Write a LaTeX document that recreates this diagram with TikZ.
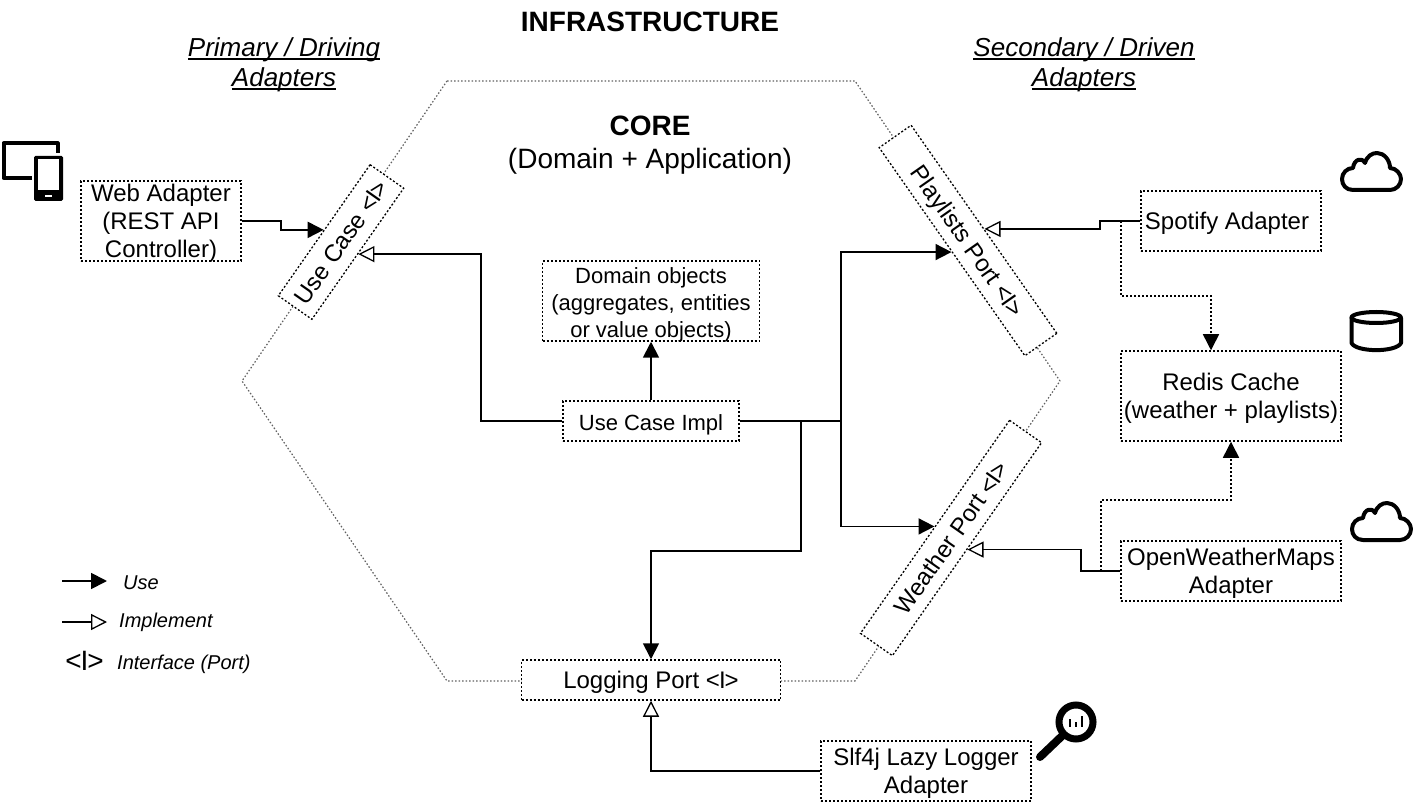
\documentclass[tikz,border=0pt]{standalone}
\usepackage{fontspec}
\setmainfont{Liberation Sans}
\usetikzlibrary{arrows.meta,calc}
\newcommand{\dn}[1]{\raisebox{-9.5pt}[0pt][0pt]{\begin{tabular}{@{}c@{}}#1\end{tabular}}}
\newcommand{\ul}[1]{\setbox0=\hbox{#1}\rlap{\rule[-3pt]{\wd0}{1.3pt}}\box0}
\newcommand{\ifc}{<\kern-1pt I\kern-1pt>}
\tikzset{
  x=1pt,y=1pt,
  dotbox/.style={draw=black,line width=1.5pt,dash pattern=on 2pt off 2pt,fill=white,inner sep=0pt,font=\fontsize{24}{28}\selectfont},
  portbox/.style={draw=black,line width=1.3pt,dash pattern=on 2pt off 2pt,fill=white,inner sep=0pt,font=\fontsize{24}{28}\selectfont},
  smallbox/.style={dotbox,font=\fontsize{22}{27}\selectfont},
  hexline/.style={draw=black!62,line width=1.2pt,dash pattern=on 1.5pt off 2pt},
  solidline/.style={draw=black,line width=1.8pt},
  dotline/.style={draw=black,line width=1.5pt,dash pattern=on 2pt off 2pt},
  usetip/.style={-{Triangle[length=16pt,width=16pt]}},
  impltip/.style={-{Triangle[open,length=16pt,width=16pt,fill=white,line width=1.3pt]}},
  txt/.style={inner sep=0pt,align=center},
  headtxt/.style={txt,font=\fontsize{26}{30}\selectfont\itshape},
  legtxt/.style={inner sep=0pt,anchor=west,font=\fontsize{20}{24}\selectfont\itshape},
  icon/.style={draw=black,line width=4pt,line join=round,line cap=round},
}
\begin{document}
\begin{tikzpicture}
\useasboundingbox (0,0) rectangle (1414,-802);
% hexagon
\coordinate (h1) at (447,-81);
\coordinate (h2) at (855,-81);
\coordinate (h3) at (1060,-381);
\coordinate (h4) at (855,-681);
\coordinate (h5) at (447,-681);
\coordinate (h6) at (242,-381);
\draw[hexline] (h1)--(h2)--(h3)--(h4)--(h5)--(h6)--cycle;
% titles
\node[txt,font=\fontsize{28}{32}\selectfont\bfseries] (infra) at (650,-22) {INFRASTRUCTURE};
\node[headtxt] (prim) at (284,-65) {\ul{Primary / Driving}\\\ul{Adapters}};
\node[headtxt] (sec) at (1084,-65) {\ul{Secondary / Driven}\\\ul{Adapters}};
\node[txt,font=\fontsize{28}{33}\selectfont] (core) at (650,-145) {\textbf{CORE}\\(Domain + Application)};
% ports
\node[portbox,minimum width=160pt,minimum height=41pt,rotate=55] (ucase) at (341,-242) {\dn{Use Case \ifc}};
\node[portbox,minimum width=254pt,minimum height=39pt,rotate=-55] (play) at (968,-240.5) {\dn{Playlists Port \ifc}};
\node[portbox,minimum width=260pt,minimum height=39pt,rotate=55] (weather) at (951,-538) {\dn{Weather Port \ifc}};
\node[dotbox,minimum width=259pt,minimum height=40pt] (logp) at (651,-680) {\dn{Logging Port \ifc}};
% boxes
\node[dotbox,minimum width=160pt,minimum height=80pt] (web) at (161,-221) {\dn{Web Adapter\\(REST API\\Controller)}};
\node[dotbox,minimum width=180pt,minimum height=60pt] (spot) at (1231,-221) {\dn{Spotify Adapter}\kern8pt};
\node[dotbox,minimum width=220pt,minimum height=90pt] (redis) at (1231,-396) {\dn{Redis Cache\\(weather + playlists)}};
\node[dotbox,minimum width=220pt,minimum height=60pt] (owm) at (1231,-571) {\dn{OpenWeatherMaps\\Adapter}};
\node[dotbox,minimum width=210pt,minimum height=60pt] (slf) at (926,-771) {\dn{Slf4j Lazy Logger\\Adapter}};
\node[smallbox,minimum width=217pt,minimum height=80pt] (dom) at (651,-301) {\dn{Domain objects\\(aggregates, entities\\or value objects)}};
\node[smallbox,minimum width=176pt,minimum height=40pt] (impl) at (651,-421) {\dn{Use Case Impl}};
% connector bends
\coordinate (a1) at (281,-221);
\coordinate (a2) at (481,-421);
\coordinate (a4) at (801,-551);
\coordinate (a5) at (1100,-221);
\coordinate (a6) at (1121,-296);
\coordinate (a7) at (1081,-571);
\coordinate (a8) at (1101,-500);
\coordinate (s1) at (1121,-221);
\coordinate (o1) at (1101,-571);
\coordinate (i1) at (801,-421);
\coordinate (i2) at (841,-421);
\coordinate (r1) at ($(redis.north)+(-20,0)$);
% connectors
\draw[solidline,usetip] (web.east) -| (a1) |- (ucase.north);
\draw[solidline,impltip] (impl.west) -- (a2) |- (ucase.south);
\draw[solidline,usetip] (impl.north) -- (dom.south);
\draw[solidline,usetip] (impl.east) -- (i2) |- (play.south);
\draw[solidline,usetip] (i2) |- (weather.north);
\draw[solidline,usetip] (i1) |- (a4) -| (logp.north);
\draw[solidline,impltip] (spot.west) -- (a5) |- (play.north);
\draw[solidline,impltip] (owm.west) -- (a7) |- (weather.south);
\draw[solidline,impltip] (slf.west) -| (logp.south);
\draw[dotline,usetip] (s1) |- (a6) -| (r1);
\draw[dotline,usetip] (o1) |- (a8) -| (redis.south);
% legend
\coordinate (l1) at (62,-581);
\coordinate (l2) at (107,-581);
\coordinate (l3) at (62,-622);
\coordinate (l4) at (107,-622);
\draw[solidline,usetip] (l1) -- (l2);
\draw[solidline,impltip] (l3) -- (l4);
\node[legtxt] (leg1) at (123,-583) {Use};
\node[legtxt] (leg2) at (119,-622) {Implement};
\node[inner sep=0pt,font=\fontsize{28}{30}\selectfont] (leg3) at (84.5,-661) {\ifc};
\node[legtxt] (leg4) at (117,-664) {Interface (Port)};
% device icon
\draw[icon,line cap=butt] (32,-178) -- (3.5,-178) -- (3.5,-143.5) -- (57.5,-143.5) -- (57.5,-153);
\fill[black,rounded corners=1.5pt] (34,-156) rectangle (63,-201);
\fill[white] (38,-159.5) rectangle (59,-190);
\fill[white] (45,-195.5) rectangle (52,-197.5);
% clouds
\newcommand{\cloudicon}[2]{
  \begin{scope}[shift={(#1,#2)}]
    \draw[icon] (13,-39) .. controls (6,-39) and (2,-34) .. (2,-28)
      .. controls (2,-22) and (7,-17) .. (13,-17)
      .. controls (14,-8) and (22,-6) .. (25,-12)
      .. controls (27,-5) and (32,-2) .. (37,-2)
      .. controls (44,-2) and (50,-9) .. (50,-17)
      .. controls (56,-17) and (61,-23) .. (61,-28)
      .. controls (61,-34) and (56,-39) .. (50,-39) -- cycle;
  \end{scope}}
\cloudicon{1340}{-151}
\cloudicon{1350}{-501}
% database
\draw[icon] (1351.5,-318) -- (1351.5,-343) .. controls (1356,-352.5) and (1396.5,-352.5) .. (1401,-343) -- (1401,-318);
\draw[icon] (1376.2,-317.5) ellipse [x radius=24.7pt,y radius=5.5pt];
% magnifier
\draw[black,line width=7pt] (1076,-722) circle [radius=17pt];
\draw[black,line width=8pt,line cap=round] (1062,-736) -- (1040,-757);
\fill[black] (1068.5,-726.7) rectangle (1071,-719.3);
\fill[black] (1074.5,-726.7) rectangle (1077,-721.7);
\fill[black] (1080.5,-726.7) rectangle (1083,-716);
\end{tikzpicture}
\end{document}
